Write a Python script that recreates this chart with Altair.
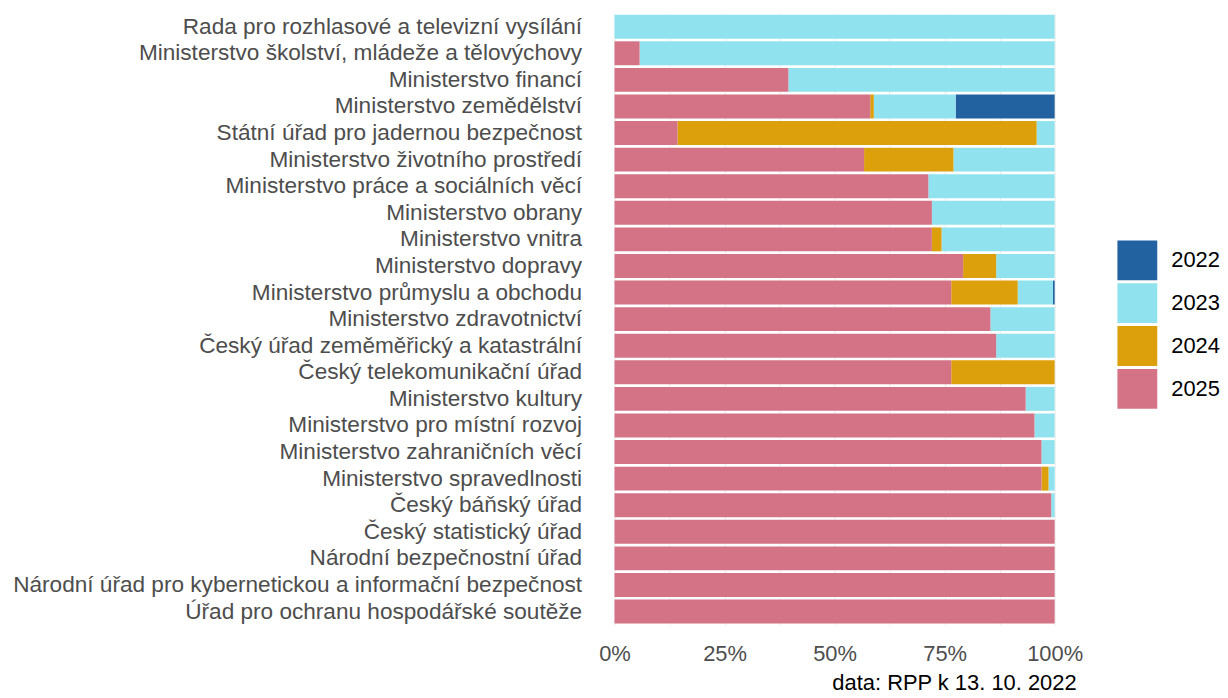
import altair as alt
import pandas as pd

categories = [
    "Rada pro rozhlasové a televizní vysílání",
    "Ministerstvo školství, mládeže a tělovýchovy",
    "Ministerstvo financí",
    "Ministerstvo zemědělství",
    "Státní úřad pro jadernou bezpečnost",
    "Ministerstvo životního prostředí",
    "Ministerstvo práce a sociálních věcí",
    "Ministerstvo obrany",
    "Ministerstvo vnitra",
    "Ministerstvo dopravy",
    "Ministerstvo průmyslu a obchodu",
    "Ministerstvo zdravotnictví",
    "Český úřad zeměměřický a katastrální",
    "Český telekomunikační úřad",
    "Ministerstvo kultury",
    "Ministerstvo pro místní rozvoj",
    "Ministerstvo zahraničních věcí",
    "Ministerstvo spravedlnosti",
    "Český báňský úřad",
    "Český statistický úřad",
    "Národní bezpečnostní úřad",
    "Národní úřad pro kybernetickou a informační bezpečnost",
    "Úřad pro ochranu hospodářské soutěže",
]

share_2025 = [0.0, 5.7, 39.5, 58.1, 14.3, 56.7, 71.3, 72.1, 72.1, 79.2, 76.5, 85.4, 86.7, 76.5, 93.4, 95.4, 97.0, 97.0, 99.2, 100, 100, 100, 100]
share_2024 = [0.0, 0.0, 0.0, 0.8, 81.6, 20.3, 0.0, 0.0, 2.2, 7.5, 15.1, 0.0, 0.0, 23.5, 0.0, 0.0, 0.0, 1.6, 0.0, 0, 0, 0, 0]
share_2023 = [100, 94.3, 60.5, 18.6, 4.1, 23.0, 28.7, 27.9, 25.7, 13.3, 8.0, 14.6, 13.3, 0.0, 6.6, 4.6, 3.0, 1.4, 0.8, 0, 0, 0, 0]
share_2022 = [0.0, 0.0, 0.0, 22.5, 0.0, 0.0, 0.0, 0.0, 0.0, 0.0, 0.4, 0.0, 0.0, 0.0, 0.0, 0.0, 0.0, 0.0, 0.0, 0, 0, 0, 0]

years = ["2022", "2023", "2024", "2025"]
colors = ["#2262A0", "#90E3EE", "#DCA00C", "#D47385"]
stack_rank = {"2025": 0, "2024": 1, "2023": 2, "2022": 3}

rows = []
for i, cat in enumerate(categories):
    for yr, series in zip(years, [share_2022, share_2023, share_2024, share_2025]):
        v = series[i]
        if v > 0:
            rows.append({"urad": cat, "rok": yr, "podil": v, "poradi": stack_rank[yr]})
df = pd.DataFrame(rows)

FONT = "Liberation Sans"

bars = alt.Chart(df).mark_bar().encode(
    y=alt.Y("urad:N", sort=categories, title=None,
            scale=alt.Scale(paddingInner=0.1, paddingOuter=0.05),
            axis=alt.Axis(ticks=False, domain=False, grid=False, labelPadding=33,
                          labelFontSize=22.7, labelColor="#4D4D4D", labelFont=FONT,
                          labelLimit=900)),
    x=alt.X("podil:Q", stack="normalize", title=None,
            scale=alt.Scale(domain=[0, 1], nice=False),
            axis=alt.Axis(values=[0, 0.125, 0.25, 0.375, 0.5, 0.625, 0.75, 0.875, 1],
                          labelExpr="(round(datum.value*1000) % 250 == 0) ? format(datum.value, '.0%') : ''",
                          ticks=False, domain=False, grid=True, gridColor="#EBEBEB",
                          labelFontSize=22, labelColor="#4D4D4D", labelFont=FONT,
                          labelPadding=19, labelFlush=False)),
    color=alt.Color("rok:N", scale=alt.Scale(domain=years, range=colors), title=None,
                    legend=alt.Legend(orient="none", legendX=505, legendY=228,
                                      symbolType="square", symbolSize=1600,
                                      symbolStrokeWidth=0, symbolOpacity=1,
                                      rowPadding=3, labelFontSize=22, labelFont=FONT,
                                      labelColor="#000000", labelOffset=14)),
    order=alt.Order("poradi:Q", sort="ascending"),
)

caption = alt.Chart(pd.DataFrame({"t": ["data: RPP k 13. 10. 2022"]})).mark_text(
    align="right", baseline="middle", fontSize=22, font=FONT, color="#000000"
).encode(text="t:N", x=alt.value(464), y=alt.value(672))

chart = alt.layer(bars, caption).properties(
    width=442, height=614,
    padding={"left": 4, "top": 4, "right": 0, "bottom": 0},
).configure_view(stroke=None)

chart.save("out.html", embed_options={"renderer": "svg", "actions": False})
